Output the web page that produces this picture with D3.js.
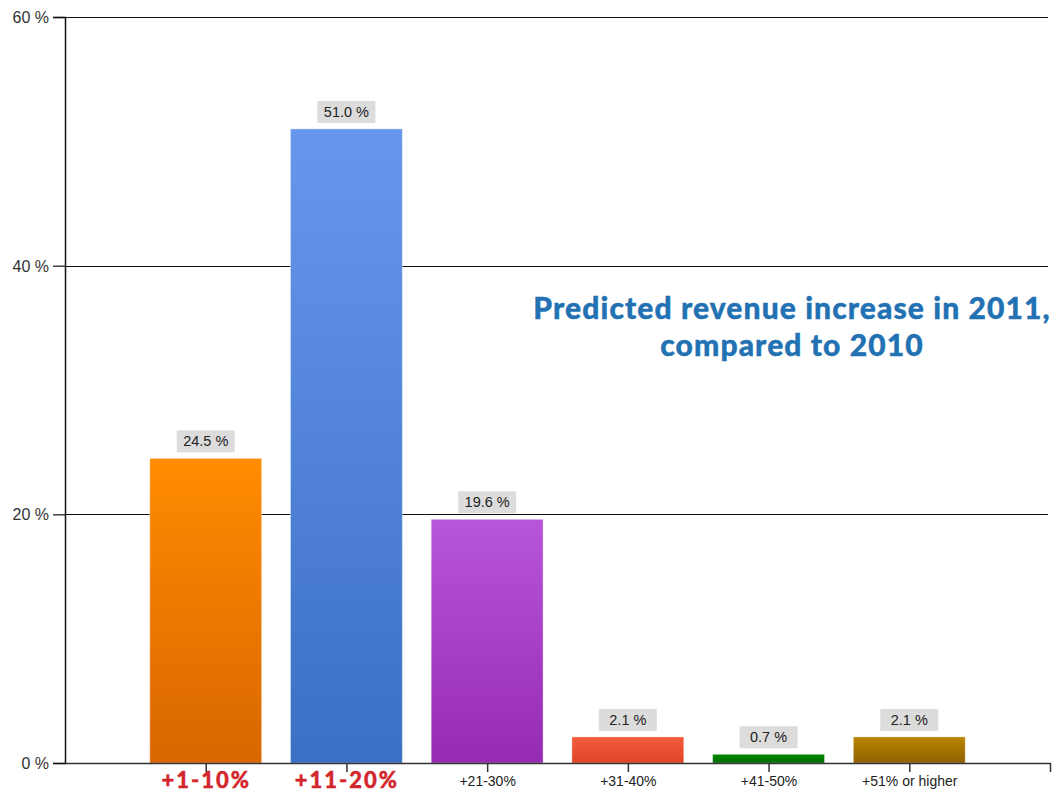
<!DOCTYPE html>
<html><head><meta charset="utf-8">
<script src="https://cdn.jsdelivr.net/npm/d3@7/dist/d3.min.js"></script>
<style>body{margin:0;background:#fff}svg{display:block}</style>
</head><body>
<svg id="chart" width="1057" height="793"></svg>
<script>
const categories = ["+1-10%", "+11-20%", "+21-30%", "+31-40%", "+41-50%", "+51% or higher"];
const values = [24.5, 51.0, 19.6, 2.1, 0.7, 2.1];
const highlighted = ["+1-10%", "+11-20%"];
const yTicks = [0, 20, 40, 60];
const colorsTop = ["#ff8c00", "#6797ec", "#b855d8", "#f45c3e", "#008a00", "#bb8500"];
const colorsBottom = ["#d96600", "#3b70c6", "#962bb3", "#df4526", "#006a00", "#8f6200"];
const titleLines = ["Predicted revenue increase in 2011,", "compared to 2010"];

const svg = d3.select("#chart");
const pLeft = 65, pRight = 1050, pTop = 17, pBottom = 763;

const y = d3.scaleLinear().domain([0, 60]).range([pBottom, pTop]);
const x = d3.scalePoint().domain(["", ...categories, " "]).range([pLeft, pRight]);
const step = x.step();
const barW = step * 0.795;

const defs = svg.append("defs");
categories.forEach((c, i) => {
  const g = defs.append("linearGradient").attr("id", "g" + i)
    .attr("x1", 0).attr("y1", 0).attr("x2", 0).attr("y2", 1);
  g.append("stop").attr("offset", "0%").attr("stop-color", colorsTop[i]);
  g.append("stop").attr("offset", "100%").attr("stop-color", colorsBottom[i]);
});

// gridlines
svg.append("g").selectAll("line").data(yTicks.filter(d => d > 0)).join("line")
  .attr("x1", pLeft).attr("x2", pRight - 2)
  .attr("y1", d => Math.round(y(d)) + 0.5).attr("y2", d => Math.round(y(d)) + 0.5)
  .attr("stroke", "#111").attr("stroke-width", 1.2);

// bars
svg.append("g").selectAll("rect").data(values).join("rect")
  .attr("x", (d, i) => x(categories[i]) - barW / 2)
  .attr("width", barW)
  .attr("y", d => y(d))
  .attr("height", d => pBottom - y(d))
  .attr("fill", (d, i) => `url(#g${i})`)
  .attr("stroke", "rgba(255,255,255,0.35)").attr("stroke-width", 1);

// value labels
const lab = svg.append("g").selectAll("g").data(values).join("g")
  .attr("transform", (d, i) => `translate(${x(categories[i])},${y(d) - 6})`);
lab.append("rect").attr("x", -29).attr("y", -22).attr("width", 58).attr("height", 22)
  .attr("fill", "#dcdcdc");
lab.append("text").attr("x", 0).attr("y", -6).attr("text-anchor", "middle")
  .attr("font-family", "Liberation Sans, Arial, sans-serif").attr("font-size", 14.5)
  .attr("fill", "#222").text(d => d.toFixed(1) + " %");

// y axis
const yAxis = svg.append("g").attr("transform", `translate(${pLeft},0)`)
  .call(d3.axisLeft(y).tickValues(yTicks).tickSize(12).tickPadding(4).tickFormat(d => d + " %"));
yAxis.select(".domain").attr("stroke", "#111").attr("stroke-width", 1.5);
yAxis.selectAll(".tick line").attr("stroke", "#111").attr("stroke-width", 1.2);
yAxis.selectAll("text").attr("font-family", "Liberation Sans, Arial, sans-serif")
  .attr("font-size", 16).attr("fill", "#333").attr("dy", "0.35em");

// x axis
const xAxis = svg.append("g").attr("transform", `translate(0,${pBottom})`)
  .call(d3.axisBottom(x).tickValues([...categories, " "]).tickSize(9).tickSizeOuter(0).tickPadding(6));
xAxis.select(".domain").attr("stroke", "#333").attr("stroke-width", 1.5);
xAxis.selectAll(".tick line").attr("stroke", "#333").attr("stroke-width", 1.5);
xAxis.selectAll("text")
  .attr("font-family", d => highlighted.includes(d) ? "Lato, sans-serif" : "Liberation Sans, Arial, sans-serif")
  .attr("font-weight", d => highlighted.includes(d) ? 900 : 400)
  .attr("font-size", d => highlighted.includes(d) ? 22 : 14)
  .attr("letter-spacing", d => highlighted.includes(d) ? "2px" : null)
  .attr("stroke", d => highlighted.includes(d) ? "#d3262c" : null)
  .attr("stroke-width", d => highlighted.includes(d) ? 0.4 : null)
  .attr("fill", d => highlighted.includes(d) ? "#d3262c" : "#222")
  .attr("y", d => highlighted.includes(d) ? 25 : 23)
  .attr("dy", 0);

// title
svg.append("text").attr("text-anchor", "middle")
  .attr("font-family", "Lato, sans-serif").attr("font-weight", 900).attr("font-size", 30)
  .attr("letter-spacing", "1.1px")
  .attr("fill", "#2271b3").attr("stroke", "#2271b3").attr("stroke-width", 0.4)
  .selectAll("tspan").data(titleLines).join("tspan")
  .attr("x", 792).attr("y", (d, i) => i === 0 ? 319 : 356).text(d => d);
</script>
</body></html>
